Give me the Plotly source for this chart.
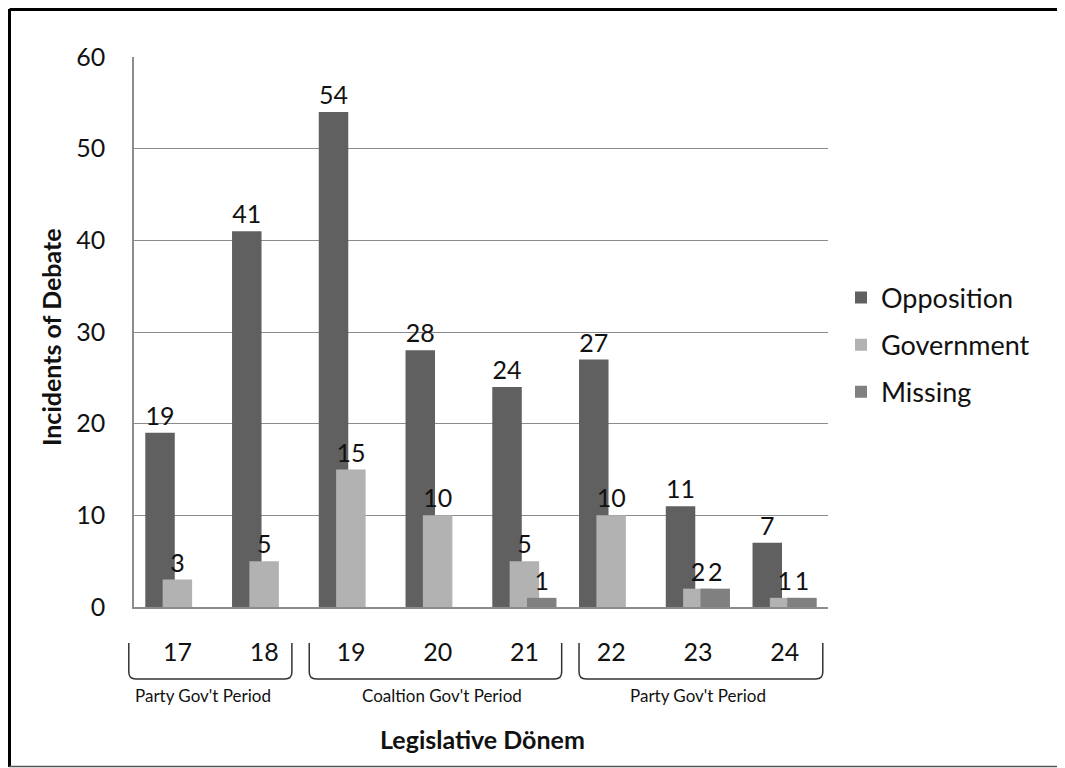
import plotly.graph_objects as go

# ---- data ----
categories = ["17", "18", "19", "20", "21", "22", "23", "24"]
opposition = [19, 41, 54, 28, 24, 27, 11, 7]
government = [3, 5, 15, 10, 5, 10, 2, 1]
missing = [None, None, None, None, 1, None, 2, 1]
series_names = ["Opposition", "Government", "Missing"]
y_ticks = [0, 10, 20, 30, 40, 50, 60]

group_labels = ["Party Gov't Period", "Coaltion Gov't Period", "Party Gov't Period"]
group_label_pos = [0.3, 3.05, 6.0]            # in category units
bracket_left = [-0.56, 1.52, 4.63]            # in category units
bracket_right = [1.32, 4.43, 7.44]

# ---- style ----
FONT = "Lato, 'Open Sans', sans-serif"
colors = ["#606060", "#b2b2b2", "#808080"]
bar_w = 0.34
step = 0.2
offsets = [-bar_w / 2 - step, -bar_w / 2, -bar_w / 2 + step]

BODY = 8  # default page margin of the html body
W, H = 1065 - BODY, 768 - BODY
ML, MT = 134 - BODY, 57 - BODY
PW, PH = 694, 550
MR, MB = W - ML - PW, H - MT - PH
n = len(categories)


def cx(u):
    """category units -> paper x"""
    return (u + 0.5) / n


def py(pix):
    """screen pixel y -> paper y"""
    return (MT + BODY + PH - pix) / PH


def px(pix):
    return (pix - BODY - ML) / PW


fig = go.Figure()
for name, vals, col, off in zip(series_names, [opposition, government, missing], colors, offsets):
    fig.add_trace(go.Bar(
        x=categories, y=vals, name=name, legendgroup=name,
        marker=dict(color=col, line=dict(width=0)),
        width=bar_w, offset=off,
        text=[("" if v is None else str(v)) for v in vals],
        textposition="outside", constraintext="none", cliponaxis=False,
        textfont=dict(family=FONT, size=25, color="#111111"),
    ))

shapes = []
# brackets
yt, yb = py(643), py(679)
rx, ry = 7 / PW, 7 / PH
for l, r in zip(bracket_left, bracket_right):
    x0, x1 = cx(l), cx(r)
    path = (f"M {x0},{yt} L {x0},{yb + ry} Q {x0},{yb} {x0 + rx},{yb} "
            f"L {x1 - rx},{yb} Q {x1},{yb} {x1},{yb + ry} L {x1},{yt}")
    shapes.append(dict(type="path", path=path, xref="paper", yref="paper",
                       line=dict(color="#333333", width=1.5)))
# outer frame (cropped on the right, as in the reference)
shapes.append(dict(type="line", xref="paper", yref="paper",
                   x0=px(9.5), x1=px(1070), y0=py(9.5), y1=py(9.5),
                   line=dict(color="black", width=3)))
shapes.append(dict(type="line", xref="paper", yref="paper",
                   x0=px(9.5), x1=px(9.5), y0=py(9), y1=py(767),
                   line=dict(color="black", width=3)))
shapes.append(dict(type="line", xref="paper", yref="paper",
                   x0=px(9), x1=px(1070), y0=py(766.5), y1=py(766.5),
                   line=dict(color="#555555", width=1.5)))

annotations = []
for lab, pos in zip(group_labels, group_label_pos):
    annotations.append(dict(text=lab, x=cx(pos), y=py(695), xref="paper", yref="paper",
                            showarrow=False, xanchor="center", yanchor="middle",
                            font=dict(family=FONT, size=17, color="#111111")))
annotations.append(dict(text="<b>Legislative Dönem</b>", x=px(482), y=py(739),
                        xref="paper", yref="paper", showarrow=False,
                        xanchor="center", yanchor="middle",
                        font=dict(family=FONT, size=25, color="#111111")))
annotations.append(dict(text="<b>Incidents of Debate</b>", x=px(51), y=py(337),
                        xref="paper", yref="paper", showarrow=False, textangle=-90,
                        xanchor="center", yanchor="middle",
                        font=dict(family=FONT, size=25, color="#111111")))

fig.update_layout(
    width=W, height=H,
    margin=dict(l=ML, r=MR, t=MT, b=MB),
    paper_bgcolor="white", plot_bgcolor="white",
    barmode="overlay",
    font=dict(family=FONT, size=25, color="#111111"),
    showlegend=True,
    legend=dict(x=px(841), y=py(345), xanchor="left", yanchor="middle",
                font=dict(family=FONT, size=27, color="#111111"),
                bgcolor="rgba(0,0,0,0)", tracegroupgap=9),
    shapes=shapes,
    annotations=annotations,
    xaxis=dict(type="category", range=[-0.5, n - 0.5], showline=True,
               linecolor="#8c8c8c", linewidth=1.5, ticks="", showgrid=False,
               ticklabelstandoff=22,
               tickfont=dict(family=FONT, size=25, color="#111111")),
    yaxis=dict(range=[0, 60], tickvals=y_ticks, showgrid=True, gridcolor="#8c8c8c",
               gridwidth=1.2, showline=True, linecolor="#8c8c8c", linewidth=1.5,
               zeroline=False, ticks="", ticklabelstandoff=22,
               tickfont=dict(family=FONT, size=25, color="#111111")),
)

fig.write_html("out.html")
